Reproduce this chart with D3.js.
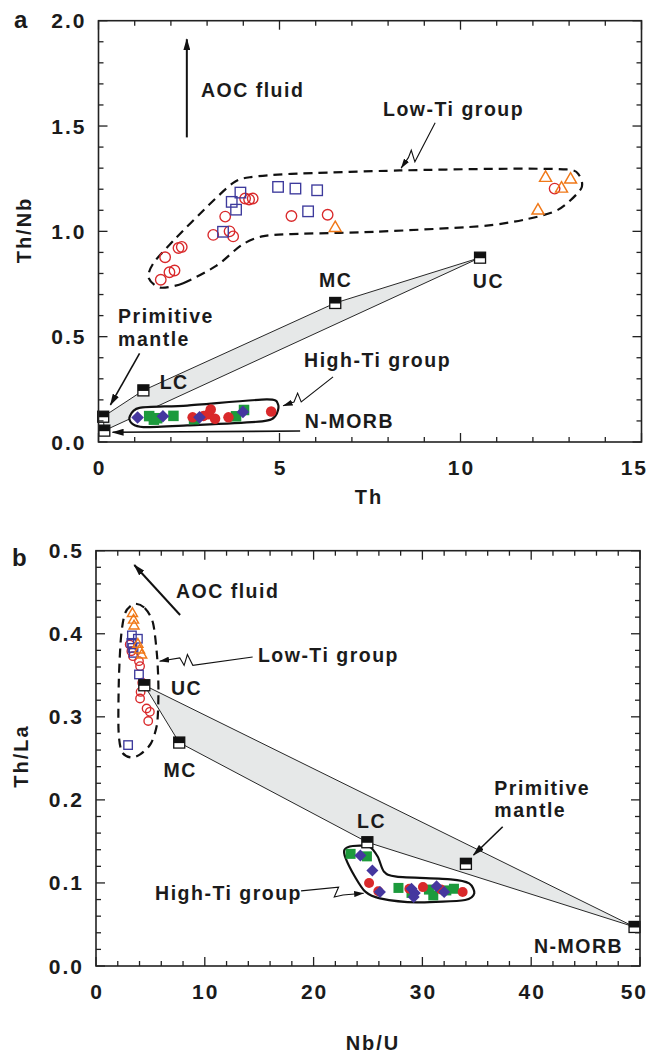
<!DOCTYPE html>
<html><head><meta charset="utf-8">
<script src="https://cdn.jsdelivr.net/npm/d3@7"></script>
<style>
body{margin:0;background:#fff}
svg{display:block}
text{font-family:"Liberation Sans",Arial,Helvetica,sans-serif;font-weight:bold;fill:#1b1b1b}
</style>
</head><body>
<svg id="fig" width="650" height="1061"></svg>
<script>
// ---------- Panel a: Th (ppm) vs Th/Nb ----------
const aLowTiCircle = [[1.72,0.770],[1.84,0.877],[1.96,0.806],[2.10,0.814],[2.21,0.921],[2.30,0.926],[3.17,0.983],[3.62,1.0],[3.72,0.976],[3.50,1.070],[4.05,1.156],[4.16,1.151],[4.26,1.156],[5.33,1.073],[6.33,1.079],[12.6,1.203]];
const aLowTiSquare = [[3.44,0.998],[3.68,1.140],[3.92,1.184],[3.80,1.103],[4.96,1.211],[5.44,1.203],[6.04,1.195],[5.79,1.095]];
const aLowTiTriangle = [[6.54,1.019],[12.35,1.257],[12.14,1.102],[12.79,1.206],[13.04,1.249]];
const aHighTiCircle = [[2.60,0.117],[2.90,0.124],[3.04,0.132],[3.10,0.154],[3.22,0.110],[3.59,0.117],[4.77,0.145]];
const aHighTiSquare = [[1.40,0.123],[1.53,0.106],[1.62,0.113],[2.07,0.124],[2.64,0.108],[3.80,0.122],[4.02,0.152]];
const aHighTiDiamond = [[1.08,0.116],[1.78,0.122],[2.79,0.117],[3.99,0.143]];
const aReservoirNames = ["Primitive mantle","N-MORB","LC","MC","UC"];
const aReservoirTh = [0.13,0.16,1.24,6.54,10.54];
const aReservoirThNb = [0.120,0.054,0.245,0.660,0.875];
const aFieldOrder = ["Primitive mantle","LC","MC","UC","N-MORB"];
const aLowTiOutline = [[1.70,0.733],[2.34,0.754],[3.26,0.837],[3.95,0.935],[4.52,0.976],[5.33,0.987],[7.63,0.998],[10.51,1.024],[11.78,1.056],[12.70,1.103],[13.33,1.202],[13.27,1.268],[12.93,1.294],[11.09,1.297],[8.32,1.289],[5.33,1.273],[4.18,1.257],[3.72,1.230],[3.03,1.122],[2.11,0.963],[1.53,0.852],[1.38,0.781]];
const aHighTiOutline = [[0.86,0.119],[1.13,0.162],[2.45,0.173],[4.64,0.202],[4.96,0.178],[4.89,0.125],[4.52,0.098],[2.45,0.079],[1.24,0.071],[0.93,0.087]];
const aXTicks = [0,5,10,15];
const aYTicks = [0.0,0.5,1.0,1.5,2.0];

// ---------- Panel b: Nb/U vs Th/La ----------
const bLowTiCircle = [[3.10,0.387],[3.25,0.379],[3.40,0.373],[3.95,0.367],[4.05,0.361],[4.25,0.341],[4.10,0.330],[4.05,0.322],[4.65,0.310],[4.95,0.306],[4.80,0.295]];
const bLowTiSquare = [[3.30,0.398],[3.85,0.394],[3.25,0.389],[3.35,0.383],[3.45,0.377],[3.95,0.351],[2.95,0.266]];
const bLowTiTriangle = [[3.35,0.425],[3.45,0.417],[3.50,0.410],[3.85,0.388],[4.00,0.381],[4.20,0.375]];
const bHighTiCircle = [[25.1,0.100],[25.95,0.090],[28.8,0.093],[30.05,0.095],[31.7,0.092],[33.7,0.089]];
const bHighTiSquare = [[23.4,0.135],[24.9,0.132],[27.8,0.094],[29.0,0.088],[30.6,0.092],[31.0,0.085],[32.2,0.091],[32.9,0.093]];
const bHighTiDiamond = [[24.3,0.133],[25.4,0.115],[26.1,0.089],[29.0,0.093],[29.3,0.088],[29.2,0.083],[31.3,0.096],[32.0,0.089]];
const bReservoirNames = ["UC","MC","LC","Primitive mantle","N-MORB"];
const bReservoirNbU = [4.44,7.65,24.94,34.0,49.5];
const bReservoirThLa = [0.338,0.269,0.149,0.123,0.047];
const bFieldOrder = ["UC","MC","LC","N-MORB"];
const bLowTiOutline = [[3.52,0.436],[4.48,0.431],[5.24,0.413],[5.62,0.372],[5.74,0.332],[5.62,0.292],[5.05,0.268],[4.09,0.255],[3.21,0.251],[2.37,0.258],[2.07,0.284],[2.10,0.344],[2.30,0.396],[2.68,0.425]];
const bHighTiOutline = [[22.84,0.140],[23.6,0.1445],[25.13,0.1437],[25.9,0.1316],[26.47,0.1136],[27.62,0.1075],[32.6,0.1043],[34.3,0.0995],[34.77,0.0875],[33.93,0.0795],[29.5,0.0766],[26.1,0.0815],[24.75,0.0895],[23.8,0.1075],[22.95,0.1296]];
const bXTicks = [0,10,20,30,40,50];
const bYTicks = [0.0,0.1,0.2,0.3,0.4,0.5];

const RED = "#d9292b", BLUE = "#3d3a9c", ORANGE = "#f07818", GREEN = "#1c9a3c", BLUEFILL = "#45379f";
const FIG_W = 650;

const svg = d3.select("#fig");

// arrowhead markers
const defs = svg.append("defs");
defs.append("marker").attr("id","headThin").attr("viewBox","0 0 10 6")
  .attr("refX",9.5).attr("refY",3).attr("markerWidth",10).attr("markerHeight",6)
  .attr("markerUnits","userSpaceOnUse").attr("orient","auto")
  .append("path").attr("d","M0,0 L10,3 L0,6 Z").attr("fill","#111");
defs.append("marker").attr("id","headBold").attr("viewBox","0 0 12 7")
  .attr("refX",11).attr("refY",3.5).attr("markerWidth",12).attr("markerHeight",7)
  .attr("markerUnits","userSpaceOnUse").attr("orient","auto")
  .append("path").attr("d","M0,0 L12,3.5 L0,7 Z").attr("fill","#111");

function label(g, txt, px, py, size, opts = {}) {
  return g.append("text").attr("x", px).attr("y", py)
    .attr("font-size", size).attr("letter-spacing", opts.ls ?? 1.5)
    .attr("text-anchor", opts.anchor || "start").text(txt);
}

function drawPanel(cfg) {
  const x = d3.scaleLinear().domain(cfg.xDomain).range([cfg.left, cfg.right]);
  const y = d3.scaleLinear().domain(cfg.yDomain).range([cfg.bottom, cfg.top]);
  const g = svg.append("g");
  const P = d => [x(d[0]), y(d[1])];

  // mixing field between crustal / mantle reservoirs
  const refByName = new Map(cfg.refNames.map((n, i) => [n, [cfg.refX[i], cfg.refY[i]]]));
  const field = cfg.fieldOrder.map(n => refByName.get(n));
  g.append("path").datum(field)
    .attr("d", d3.line().x(d => x(d[0])).y(d => y(d[1])).curve(d3.curveLinearClosed))
    .attr("fill", "#e6e8e8").attr("stroke", "#111").attr("stroke-width", 0.9).attr("stroke-linejoin","round");

  // group outlines
  const closed = d3.line().x(d => x(d[0])).y(d => y(d[1])).curve(d3.curveCardinalClosed.tension(0.2));
  g.append("path").datum(cfg.lowOutline).attr("d", closed)
    .attr("fill", "none").attr("stroke", "#111").attr("stroke-width", 2.2).attr("stroke-dasharray", "9,6");
  g.append("path").datum(cfg.highOutline).attr("d", closed)
    .attr("fill", "white").attr("stroke", "#111").attr("stroke-width", 2.2);

  const s = cfg.sym;
  // Low-Ti open symbols
  g.selectAll(null).data(cfg.lowCircle).enter().append("circle")
    .attr("cx", d => x(d[0])).attr("cy", d => y(d[1])).attr("r", s.open / 2)
    .attr("fill", "none").attr("stroke", RED).attr("stroke-width", 1.35);
  g.selectAll(null).data(cfg.lowSquare).enter().append("rect")
    .attr("x", d => x(d[0]) - s.open / 2).attr("y", d => y(d[1]) - s.open / 2)
    .attr("width", s.open).attr("height", s.open)
    .attr("fill", "none").attr("stroke", BLUE).attr("stroke-width", 1.35);
  const tri = (cx, cy, a) => {
    const h = a * 0.866;
    return `M${cx},${cy - h * 0.6}L${cx + a / 2},${cy + h * 0.4}L${cx - a / 2},${cy + h * 0.4}Z`;
  };
  g.selectAll(null).data(cfg.lowTri).enter().append("path")
    .attr("d", d => tri(x(d[0]), y(d[1]), s.open + 1.5))
    .attr("fill", "none").attr("stroke", ORANGE).attr("stroke-width", 1.45);

  // High-Ti filled symbols
  g.selectAll(null).data(cfg.highSquare).enter().append("rect")
    .attr("x", d => x(d[0]) - s.fill / 2).attr("y", d => y(d[1]) - s.fill / 2)
    .attr("width", s.fill).attr("height", s.fill).attr("fill", GREEN);
  g.selectAll(null).data(cfg.highCircle).enter().append("circle")
    .attr("cx", d => x(d[0])).attr("cy", d => y(d[1])).attr("r", s.fill / 2).attr("fill", RED);
  g.selectAll(null).data(cfg.highDiamond).enter().append("path")
    .attr("d", d => { const [cx, cy] = P(d), r = s.fill * 0.6; return `M${cx},${cy - r}L${cx + r},${cy}L${cx},${cy + r}L${cx - r},${cy}Z`; })
    .attr("fill", BLUEFILL);

  // reservoirs: half-filled squares
  const rs = 11;
  cfg.refNames.forEach((n, i) => {
    const cx = x(cfg.refX[i]), cy = y(cfg.refY[i]);
    g.append("rect").attr("x", cx - rs / 2).attr("y", cy - rs / 2).attr("width", rs).attr("height", rs)
      .attr("fill", "white").attr("stroke", "#111").attr("stroke-width", 1.3);
    g.append("rect").attr("x", cx - rs / 2).attr("y", cy - rs / 2).attr("width", rs).attr("height", rs * 0.55)
      .attr("fill", "#111");
  });

  // frame and inward ticks on all sides
  g.append("rect").attr("x", cfg.left).attr("y", cfg.top)
    .attr("width", cfg.right - cfg.left).attr("height", cfg.bottom - cfg.top)
    .attr("fill", "none").attr("stroke", "#222").attr("stroke-width", 1.6);
  const tk = g.append("g").attr("stroke", "#222").attr("stroke-width", 1.3);
  const near = (v, step) => Math.abs(v / step - Math.round(v / step)) < 1e-6;
  d3.range(cfg.xDomain[0], cfg.xDomain[1] + 1e-9, cfg.xMinor).forEach(v => {
    const L = near(v, cfg.xMajor) ? 9 : 5, px = x(v);
    tk.append("line").attr("x1", px).attr("x2", px).attr("y1", cfg.bottom).attr("y2", cfg.bottom - L);
    tk.append("line").attr("x1", px).attr("x2", px).attr("y1", cfg.top).attr("y2", cfg.top + L);
  });
  d3.range(cfg.yDomain[0], cfg.yDomain[1] + 1e-9, cfg.yMinor).forEach(v => {
    const L = near(v, cfg.yMajor) ? 9 : 5, py = y(v);
    tk.append("line").attr("y1", py).attr("y2", py).attr("x1", cfg.left).attr("x2", cfg.left + L);
    tk.append("line").attr("y1", py).attr("y2", py).attr("x1", cfg.right).attr("x2", cfg.right - L);
  });

  // tick labels (the last one is kept inside the figure edge)
  cfg.xTicks.forEach(v => {
    const t = label(g, String(v), x(v) + 1, cfg.bottom + 33, 21, { anchor: "middle", ls: 2 });
    const bb = t.node().getBBox();
    const over = bb.x + bb.width - (FIG_W - 2);
    if (over > 0) t.attr("x", x(v) + 1 - over);
  });
  cfg.yTicks.forEach(v => label(g, v.toFixed(1), cfg.left - 12, y(v) + 7.5, 21, { anchor: "end", ls: 2 }));

  // axis titles
  label(g, cfg.xTitle, cfg.xTitlePos[0], cfg.xTitlePos[1], 20, { anchor: "middle", ls: 2 });
  g.append("text").attr("transform", `translate(${cfg.yTitlePos[0]},${cfg.yTitlePos[1]}) rotate(-90)`)
    .attr("font-size", 20).attr("letter-spacing", 2).attr("text-anchor", "middle").text(cfg.yTitle);
  label(g, cfg.panel, cfg.panelPos[0], cfg.panelPos[1], 24, { ls: 0 });

  // annotations (anchored in data units)
  cfg.texts.forEach(t => label(g, t.text, x(t.at[0]), y(t.at[1]), 19.5, { ls: 1.5 }));
  cfg.arrows.forEach(a => {
    g.append("path").datum(a.pts)
      .attr("d", d3.line().x(d => x(d[0])).y(d => y(d[1])).curve(a.curve || d3.curveLinear))
      .attr("fill", "none").attr("stroke", "#111").attr("stroke-width", a.w || 1.1)
      .attr("marker-end", `url(#${a.head || "headThin"})`);
  });
}

drawPanel({
  panel: "a", panelPos: [14, 28],
  left: 98.5, right: 641.5, top: 20.7, bottom: 442,
  xDomain: [0, 15], yDomain: [0, 2], xMinor: 1, xMajor: 5, yMinor: 0.1, yMajor: 0.5,
  xTicks: aXTicks, yTicks: aYTicks,
  xTitle: "Th", xTitlePos: [369, 504], yTitle: "Th/Nb", yTitlePos: [31, 230],
  refNames: aReservoirNames, refX: aReservoirTh, refY: aReservoirThNb, fieldOrder: aFieldOrder,
  lowOutline: aLowTiOutline, highOutline: aHighTiOutline,
  lowCircle: aLowTiCircle, lowSquare: aLowTiSquare, lowTri: aLowTiTriangle,
  highCircle: aHighTiCircle, highSquare: aHighTiSquare, highDiamond: aHighTiDiamond,
  sym: { open: 10.5, fill: 10.5 },
  texts: [
    { text: "AOC fluid", at: [2.83, 1.636] },
    { text: "Low-Ti group", at: [7.86, 1.548] },
    { text: "MC", at: [6.09, 0.737] },
    { text: "UC", at: [10.34, 0.730] },
    { text: "Primitive", at: [0.54, 0.566] },
    { text: "mantle", at: [0.54, 0.456] },
    { text: "LC", at: [1.69, 0.250] },
    { text: "High-Ti group", at: [5.68, 0.357] },
    { text: "N-MORB", at: [5.70, 0.068] }
  ],
  arrows: [
    { pts: [[2.44, 1.446], [2.44, 1.912]], w: 2, head: "headBold" },
    { pts: [[9.30, 1.516], [8.74, 1.330], [8.64, 1.385], [8.56, 1.350], [8.36, 1.300]] },
    { pts: [[1.135, 0.421], [0.33, 0.176]], w: 1.6, head: "headBold" },
    { pts: [[6.48, 0.309], [5.60, 0.190], [5.50, 0.232], [5.40, 0.190], [5.10, 0.172]] },
    { pts: [[5.57, 0.052], [0.39, 0.046]], w: 1.6, head: "headBold" }
  ]
});

drawPanel({
  panel: "b", panelPos: [12, 566],
  left: 96, right: 640, top: 550.7, bottom: 966,
  xDomain: [0, 50], yDomain: [0, 0.5], xMinor: 2, xMajor: 10, yMinor: 0.02, yMajor: 0.1,
  xTicks: bXTicks, yTicks: bYTicks,
  xTitle: "Nb/U", xTitlePos: [373, 1050], yTitle: "Th/La", yTitlePos: [28, 756],
  refNames: bReservoirNames, refX: bReservoirNbU, refY: bReservoirThLa, fieldOrder: bFieldOrder,
  lowOutline: bLowTiOutline, highOutline: bHighTiOutline,
  lowCircle: bLowTiCircle, lowSquare: bLowTiSquare, lowTri: bLowTiTriangle,
  highCircle: bHighTiCircle, highSquare: bHighTiSquare, highDiamond: bHighTiDiamond,
  sym: { open: 8.5, fill: 10 },
  texts: [
    { text: "AOC fluid", at: [7.35, 0.4426] },
    { text: "Low-Ti group", at: [14.88, 0.3664] },
    { text: "UC", at: [6.89, 0.3262] },
    { text: "MC", at: [6.20, 0.228] },
    { text: "LC", at: [23.99, 0.1657] },
    { text: "Primitive", at: [36.61, 0.2059] },
    { text: "mantle", at: [36.61, 0.1798] },
    { text: "N-MORB", at: [40.25, 0.016] },
    { text: "High-Ti group", at: [5.43, 0.0795] }
  ],
  arrows: [
    { pts: [[7.73, 0.4226], [3.52, 0.4828]], w: 2, head: "headBold" },
    { pts: [[14.4, 0.372], [8.9, 0.362], [8.4, 0.375], [8.1, 0.362], [7.7, 0.371], [5.85, 0.367]] },
    { pts: [[37.38, 0.1677], [34.70, 0.1336]], w: 1.6, head: "headBold" },
    { pts: [[18.85, 0.0905], [22.3, 0.095], [21.9, 0.083], [22.7, 0.0855], [24.6, 0.0875]] }
  ]
});
</script>
</body></html>
